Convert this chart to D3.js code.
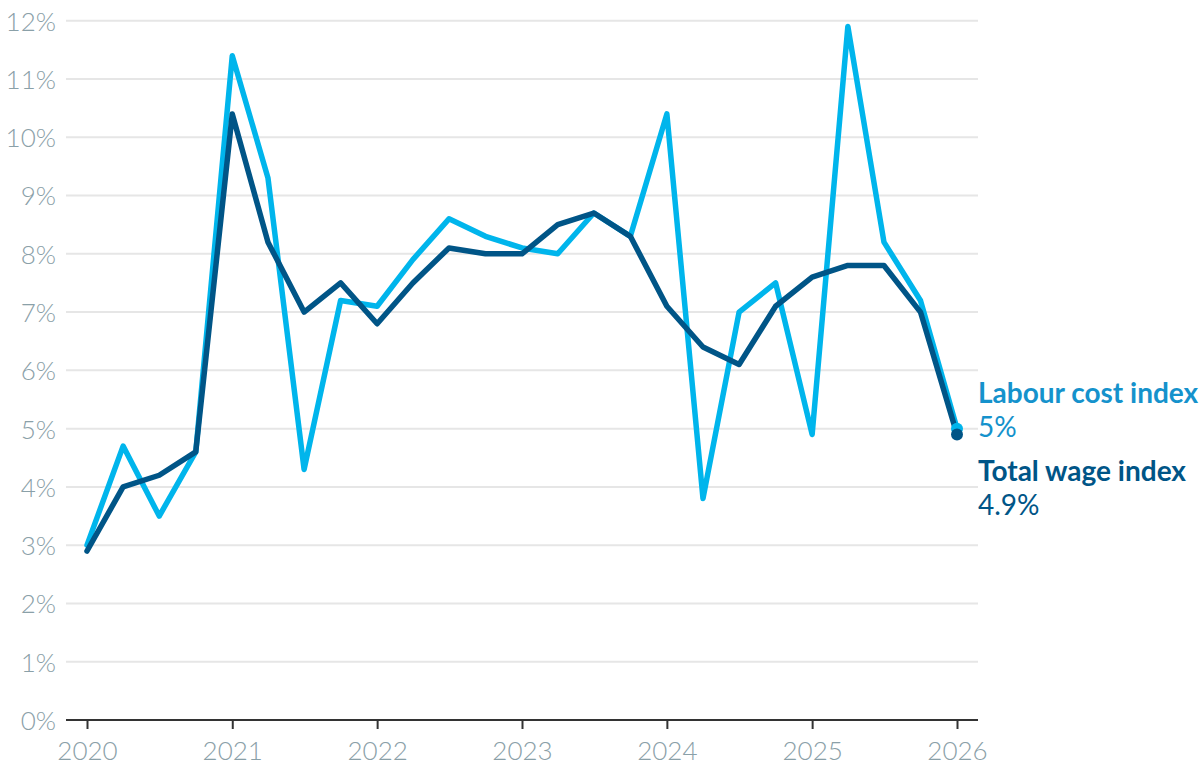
<!DOCTYPE html>
<html>
<head>
<meta charset="utf-8">
<script src="https://cdn.jsdelivr.net/npm/d3@7"></script>
<style>
  body { margin: 0; background: #fff; }
  svg { display: block; font-family: Lato, "Open Sans", sans-serif; }
</style>
</head>
<body>
<div id="chart"></div>
<script>
const WIDTH = 1200, HEIGHT = 774;

// quarterly observations
const quarters = [
  "2020-01", "2020-04", "2020-07", "2020-10",
  "2021-01", "2021-04", "2021-07", "2021-10",
  "2022-01", "2022-04", "2022-07", "2022-10",
  "2023-01", "2023-04", "2023-07", "2023-10",
  "2024-01", "2024-04", "2024-07", "2024-10",
  "2025-01", "2025-04", "2025-07", "2025-10",
  "2026-01"
];
const labourCost = [
  3.0, 4.7, 3.5, 4.6,
  11.4, 9.3, 4.3, 7.2,
  7.1, 7.9, 8.6, 8.3,
  8.1, 8.0, 8.7, 8.3,
  10.4, 3.8, 7.0, 7.5,
  4.9, 11.9, 8.2, 7.2,
  5.0
];
const totalWage = [
  2.9, 4.0, 4.2, 4.6,
  10.4, 8.2, 7.0, 7.5,
  6.8, 7.5, 8.1, 8.0,
  8.0, 8.5, 8.7, 8.3,
  7.1, 6.4, 6.1, 7.1,
  7.6, 7.8, 7.8, 7.0,
  4.9
];
const yTicks = [0, 1, 2, 3, 4, 5, 6, 7, 8, 9, 10, 11, 12];
const xTickYears = ["2020", "2021", "2022", "2023", "2024", "2025", "2026"];

const seriesNames = ["Labour cost index", "Total wage index"];
const lineColors = ["#00b5ec", "#005587"];
const labelColors = ["#1592cc", "#005587"];

let margin = {top: 20, right: 222, bottom: 54, left: 66};

let parseMonth = d3.timeParse("%Y-%m");
let parseYear = d3.timeParse("%Y");
let dates = quarters.map(q => parseMonth(q));

let svg = d3.select("#chart")
    .append("svg")
    .attr("width", WIDTH)
    .attr("height", HEIGHT);

// x scale: data starts 21px inside the grid on both sides
let x = d3.scaleTime()
    .domain([dates[0], dates[dates.length - 1]])
    .range([margin.left + 21, WIDTH - margin.right - 21]);

let y = d3.scaleLinear()
    .domain([0, 12])
    .range([HEIGHT - margin.bottom, margin.top + 0.7]);

// gridlines
svg.append("g")
    .selectAll("line")
    .data(yTicks.filter(d => d > 0))
    .enter()
    .append("line")
    .attr("x1", margin.left)
    .attr("x2", WIDTH - margin.right)
    .attr("y1", d => y(d))
    .attr("y2", d => y(d))
    .attr("stroke", "#e6e6e6")
    .attr("stroke-width", 2);

// y labels
let yAxis = svg.append("g")
    .attr("transform", `translate(${margin.left}, 0)`)
    .call(d3.axisLeft(y).tickValues(yTicks).tickSize(0).tickPadding(10).tickFormat(d => d + "%"));
yAxis.attr("font-family", null).attr("font-size", null);
yAxis.select(".domain").remove();
yAxis.selectAll("text")
    .attr("fill", "#8aa0a8")
    .style("font-size", "26px")
    .style("font-weight", 300)
    .attr("dy", "0.36em");

// x axis
let xAxis = svg.append("g")
    .attr("transform", `translate(0, ${y(0)})`)
    .call(d3.axisBottom(x)
        .tickValues(xTickYears.map(s => parseYear(s)))
        .tickSize(9)
        .tickPadding(13)
        .tickFormat(d3.timeFormat("%Y")));
xAxis.attr("font-family", null).attr("font-size", null);
xAxis.select(".domain")
    .attr("d", `M${margin.left},0H${WIDTH - margin.right}`)
    .attr("stroke", "#333")
    .attr("stroke-width", 2);
xAxis.selectAll(".tick line")
    .attr("stroke", "#333")
    .attr("stroke-width", 2);
xAxis.selectAll("text")
    .attr("fill", "#8aa0a8")
    .style("font-size", "26px")
    .style("font-weight", 300);

// lines
let line = d3.line()
    .x((d, i) => x(dates[i]))
    .y(d => y(d));

[labourCost, totalWage].forEach(function(values, k) {
    svg.append("path")
        .datum(values)
        .attr("fill", "none")
        .attr("stroke", lineColors[k])
        .attr("stroke-width", 5.5)
        .attr("stroke-linejoin", "round")
        .attr("stroke-linecap", "round")
        .attr("d", line);
});

// end dots
[labourCost, totalWage].forEach(function(values, k) {
    let n = values.length - 1;
    svg.append("circle")
        .attr("cx", x(dates[n]))
        .attr("cy", y(values[n]))
        .attr("r", 6)
        .attr("fill", lineColors[k]);
});

// end labels
let labelX = WIDTH - margin.right;
let labelRows = [
    {name: seriesNames[0], value: labourCost[labourCost.length - 1] + "%", color: labelColors[0], top: 403},
    {name: seriesNames[1], value: totalWage[totalWage.length - 1] + "%", color: labelColors[1], top: 481}
];
labelRows.forEach(function(r) {
    svg.append("text")
        .attr("x", labelX)
        .attr("y", r.top)
        .attr("fill", r.color)
        .style("font-size", "28px")
        .style("font-weight", 700)
        .text(r.name);
    svg.append("text")
        .attr("x", labelX)
        .attr("y", r.top + 34)
        .attr("fill", r.color)
        .style("font-size", "28px")
        .style("font-weight", 400)
        .text(r.value);
});
</script>
</body>
</html>
